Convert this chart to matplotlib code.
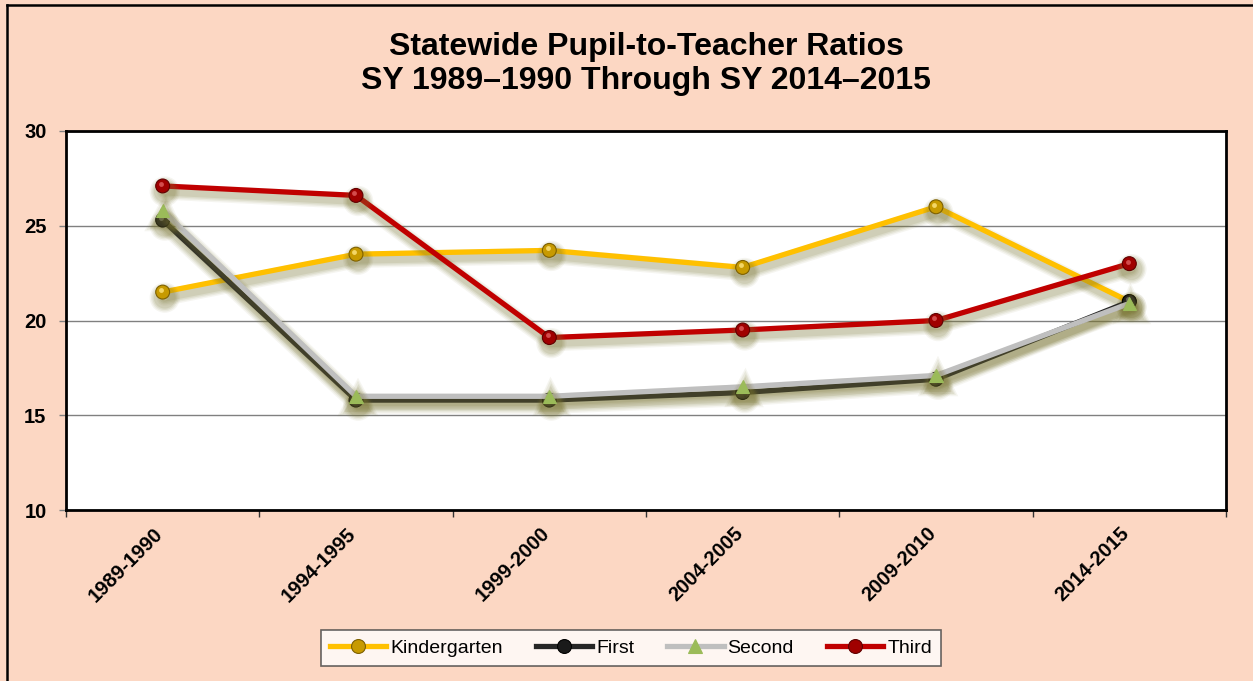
import matplotlib
matplotlib.use("Agg")
import matplotlib.pyplot as plt
import matplotlib.patheffects as pe
from matplotlib.lines import Line2D
from matplotlib.transforms import offset_copy, ScaledTranslation

years = ["1989-1990", "1994-1995", "1999-2000", "2004-2005", "2009-2010", "2014-2015"]
kindergarten = [21.5, 23.5, 23.7, 22.8, 26.0, 21.0]
first = [25.3, 15.8, 15.8, 16.2, 16.9, 21.0]
second = [25.8, 16.0, 16.0, 16.5, 17.1, 20.9]
third = [27.1, 26.6, 19.1, 19.5, 20.0, 23.0]
title = "Statewide Pupil-to-Teacher Ratios\nSY 1989\u20131990 Through SY 2014\u20132015"

plt.rcParams['font.family'] = ['Liberation Sans', 'DejaVu Sans']

BG = '#FCD7C3'
fig = plt.figure(figsize=(12.53, 6.81), dpi=100, facecolor=BG)
ax = fig.add_axes([66/1253, 1-510/681, (1226-66)/1253, (510-131)/681])
ax.set_facecolor('white')

x = list(range(len(years)))
LW = 3.8

def shadow(lw):
    effs = []
    for k, a in ((8, 0.07), (6, 0.09), (4, 0.11), (2, 0.13)):
        effs.append(pe.SimpleLineShadow(offset=(1.5, -4), shadow_color='#7a7532',
                                        alpha=a, linewidth=lw + k))
    effs.append(pe.Normal())
    return effs

series = [
    (kindergarten, '#FFC000', 'o', '#C79A00', '#7d6000', 10, 'Kindergarten', '#FFE680'),
    (first, '#262626', 'o', '#1a1a1a', '#000000', 10, 'First', '#777777'),
    (second, '#BFBFBF', '^', '#9BBB59', '#9BBB59', 9.5, 'Second', None),
    (third, '#C00000', 'o', '#A00000', '#600000', 10, 'Third', '#E06060'),
]

handles = []
for i, (vals, lc, mk, mfc, mec, ms, lab, hl) in enumerate(series):
    ax.plot(x, vals, color=lc, lw=LW, marker=mk, markersize=ms, markerfacecolor=mfc,
            markeredgecolor=mec, markeredgewidth=0.8, solid_joinstyle='round',
            solid_capstyle='round', zorder=3 + i, path_effects=shadow(LW))
    if hl is not None:
        tr = offset_copy(ax.transData, fig=fig, x=-1.2, y=1.5, units='points')
        ax.plot(x, vals, linestyle='none', marker='o', markersize=3.5,
                markerfacecolor=hl, markeredgecolor='none', alpha=0.8,
                transform=tr, zorder=3 + i + 0.5)
    handles.append(Line2D([0], [0], color=lc, lw=LW, marker=mk, markersize=ms,
                          markerfacecolor=mfc, markeredgecolor=mec, markeredgewidth=0.8,
                          label=lab))

ax.set_xlim(-0.5, len(years) - 0.5)
ax.set_ylim(10, 30)
ax.set_yticks([10, 15, 20, 25, 30])
ax.yaxis.grid(True, color='#808080', lw=1.0)
ax.set_axisbelow(True)
ax.tick_params(axis='y', direction='out', length=5, width=1, color='#808080',
               labelsize=14.5, pad=9)
for lab in ax.get_yticklabels():
    lab.set_fontweight('bold')

ax.set_xticks(x)
ax.set_xticklabels(years, rotation=45, ha='right', va='top', fontsize=14.5,
                   fontweight='bold')
ax.tick_params(axis='x', which='major', length=0, pad=10)
shift = ScaledTranslation(4/100, 0, fig.dpi_scale_trans)
for lab in ax.get_xticklabels():
    lab.set_transform(lab.get_transform() + shift)
ax.set_xticks([i - 0.5 for i in range(len(years) + 1)], minor=True)
ax.tick_params(axis='x', which='minor', direction='out', length=5, width=1, color='#333333')

for s in ax.spines.values():
    s.set_color('black')
    s.set_linewidth(2)

ax.set_title(title, fontsize=23, fontweight='bold', pad=30, linespacing=1.2)

leg = fig.legend(handles=handles, loc='center', bbox_to_anchor=(631/1253, 1 - 648/681),
                 ncol=4, frameon=True, fancybox=False, fontsize=14, handlelength=2.9,
                 handletextpad=0.2, columnspacing=1.7, borderpad=0.45)
leg.get_frame().set_edgecolor('#404040')
leg.get_frame().set_linewidth(1.2)
leg.get_frame().set_facecolor('white')

# outer chart border (left and top visible)
fig.add_artist(Line2D([7/1253, 7/1253], [0, 1 - 5/681], transform=fig.transFigure,
                      color='black', lw=1.8))
fig.add_artist(Line2D([7/1253, 1], [1 - 5/681, 1 - 5/681], transform=fig.transFigure,
                      color='black', lw=1.8))

fig.savefig('out.png', dpi=100, facecolor=BG)
